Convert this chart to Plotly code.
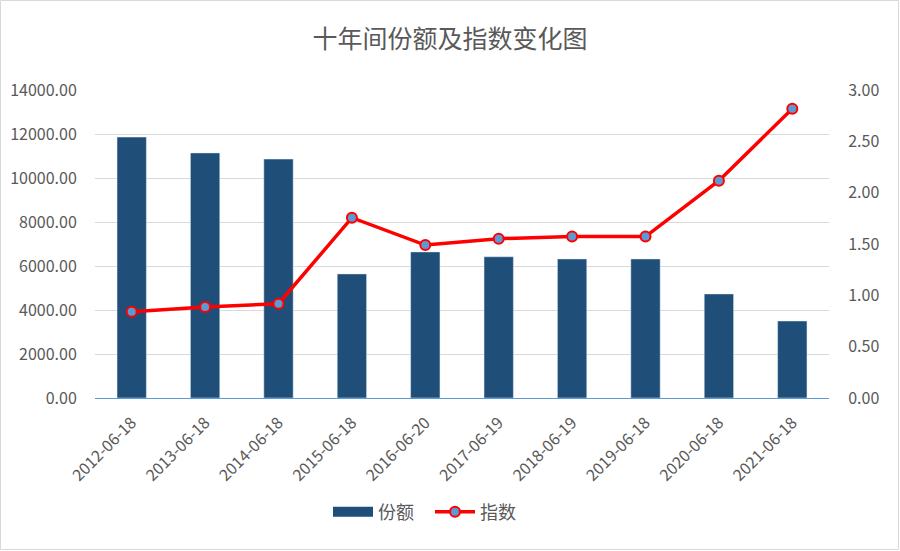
import plotly.graph_objects as go

dates = ["2012-06-18", "2013-06-18", "2014-06-18", "2015-06-18", "2016-06-20",
         "2017-06-19", "2018-06-19", "2019-06-18", "2020-06-18", "2021-06-18"]
shares = [11860, 11140, 10860, 5640, 6640, 6420, 6320, 6320, 4730, 3500]
index_vals = [0.84, 0.886, 0.918, 1.756, 1.49, 1.552, 1.572, 1.572, 2.117, 2.818]

left_ticks = [0, 2000, 4000, 6000, 8000, 10000, 12000, 14000]
right_ticks = [0, 0.5, 1.0, 1.5, 2.0, 2.5, 3.0]

FONT = "Noto Sans CJK SC"
GREY = "#595959"
BAR_C = "#1f4e79"
CLEAR = "rgba(0,0,0,0)"

fig = go.Figure()
# legend-only entry so the swatch is a wide rectangle like the original
fig.add_trace(go.Scatter(x=[None], y=[None], name="份额", mode="lines",
                         line=dict(color=BAR_C, width=12)))
fig.add_trace(go.Bar(x=dates, y=shares, name="份额", marker_color=BAR_C,
                     yaxis="y", showlegend=False))
fig.add_trace(go.Scatter(x=dates, y=index_vals, name="指数", mode="lines+markers",
                         line=dict(color="#ff0000", width=3.5),
                         marker=dict(size=10, color="#5b9bd5",
                                     line=dict(color="#ff0000", width=2)),
                         yaxis="y2"))

L, R, T, B = 95, 71, 90, 153
W, H = 900, 551
pw, ph = W - L - R, H - T - B

fig.update_layout(
    width=W, height=H,
    margin=dict(l=L, r=R, t=T, b=B, autoexpand=False),
    paper_bgcolor="white", plot_bgcolor="white",
    font=dict(family=FONT, color=GREY, size=16),
    title=dict(text="十年间份额及指数变化图", x=0.5, xanchor="center",
               y=1 - 39 / H, yanchor="middle",
               font=dict(size=25, color=GREY, family=FONT)),
    bargap=0.6,
    showlegend=True,
    legend=dict(orientation="h", x=(328 - L) / pw, xanchor="left", y=-114 / ph,
                yanchor="middle", font=dict(size=18, color=GREY),
                traceorder="normal", itemwidth=40,
                entrywidth=47, entrywidthmode="pixels"),
    xaxis=dict(type="category", range=[-0.5, len(dates) - 0.5],
               tickangle=-45, showgrid=False,
               showline=True, linecolor="#5b9bd5", linewidth=1,
               ticks="outside", ticklen=8, tickcolor=CLEAR,
               tickfont=dict(size=16, color=GREY)),
    yaxis=dict(range=[0, 14000], tickvals=left_ticks,
               ticktext=[f"{v:.2f}" for v in left_ticks],
               showgrid=True, gridcolor="#d9d9d9", gridwidth=1,
               zeroline=False, ticks="outside", ticklen=14, tickcolor=CLEAR,
               tickfont=dict(size=16, color=GREY)),
    yaxis2=dict(range=[0, 3], tickvals=right_ticks,
                ticktext=[f"{v:.2f}" for v in right_ticks],
                overlaying="y", side="right", anchor="x",
                showgrid=False, zeroline=False,
                ticks="outside", ticklen=15, tickcolor=CLEAR,
                tickfont=dict(size=16, color=GREY)),
    shapes=[dict(type="rect", xref="paper", yref="paper",
                 x0=-L / pw + 0.5 / pw, x1=1 + R / pw - 1.5 / pw,
                 y0=-B / ph + 1.5 / ph, y1=1 + T / ph - 0.5 / ph,
                 line=dict(color="#d9d9d9", width=1), layer="below")],
)

fig.write_html("out.html", config={"displayModeBar": False},
               post_script="document.body.style.margin='0';document.body.style.overflow='hidden';")
